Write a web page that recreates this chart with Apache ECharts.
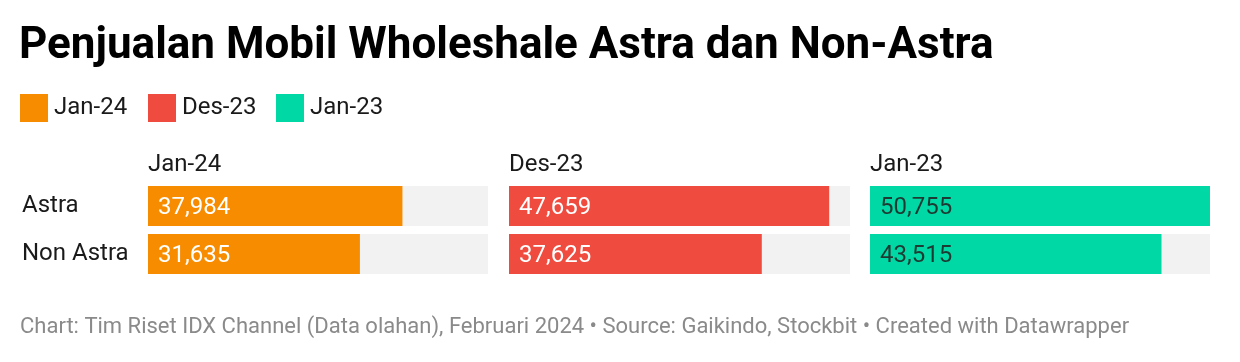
<!DOCTYPE html>
<html><head><meta charset="utf-8">
<script src="https://cdn.jsdelivr.net/npm/echarts@6/dist/echarts.min.js"></script>
<style>html,body{margin:0;padding:0;background:#fff}#c{width:1240px;height:362px}</style>
</head><body><div id="c"></div>
<script>
const categories = ['Astra', 'Non Astra'];
const periods = ['Jan-24', 'Des-23', 'Jan-23'];
const jan24 = [37984, 31635];
const des23 = [47659, 37625];
const jan23 = [50755, 43515];
const colors = ['#f88c00', '#ef4b3f', '#00d9a5'];
const labelColors = ['#ffffff', '#ffffff', '#1d3b33'];
const seriesValues = [jan24, des23, jan23];
const maxVal = Math.max(...jan24, ...des23, ...jan23);

const panelLeft = [148, 509, 870];
const panelWidth = [340, 341, 340];
const FONT = 'Roboto, sans-serif';

const chart = echarts.init(document.getElementById('c'), null, {renderer: 'canvas'});
const grids = [], xAxes = [], yAxes = [], series = [], legends = [], titles = [];
periods.forEach((p, i) => {
  grids.push({left: panelLeft[i], top: 182, width: panelWidth[i], height: 96});
  xAxes.push({gridIndex: i, type: 'value', min: 0, max: maxVal, show: false});
  yAxes.push({gridIndex: i, type: 'category', data: categories, inverse: true,
    axisLine: {show: false}, axisTick: {show: false}, splitLine: {show: false},
    axisLabel: {show: i === 0, align: 'left', margin: 126, fontSize: 24, color: '#1a1a1a', fontFamily: FONT,
      padding: [0, 0, 5, 0]}});
  series.push({name: p, type: 'bar', xAxisIndex: i, yAxisIndex: i, data: seriesValues[i],
    barWidth: 40, itemStyle: {color: colors[i]},
    showBackground: true, backgroundStyle: {color: '#f2f2f2'},
    label: {show: true, position: 'insideLeft', distance: 10, fontSize: 24, fontFamily: FONT,
      offset: [0, 2],
      color: labelColors[i], formatter: d => d.value.toLocaleString('en-US')},
    silent: true, animation: false});
  titles.push({text: p, left: panelLeft[i] - 5, top: 148,
    textStyle: {fontSize: 24, fontWeight: 'normal', color: '#1a1a1a', fontFamily: FONT}});
});
const legendLeft = [15, 143, 271];
periods.forEach((p, i) => {
  legends.push({data: [p], left: legendLeft[i], top: 89, itemWidth: 28, itemHeight: 28, icon: 'rect',
    itemGap: 0, textStyle: {fontSize: 24, color: '#1a1a1a', fontFamily: FONT, padding: [0, 0, 0, 1]},
    selectedMode: false});
});
titles.push({text: 'Penjualan Mobil Wholeshale Astra dan Non-Astra', left: 14, top: 20,
  textStyle: {fontSize: 44, fontWeight: 'bold', color: '#000', fontFamily: FONT}});
titles.push({text: 'Chart: Tim Riset IDX Channel (Data olahan), Februari 2024 • Source: Gaikindo, Stockbit • Created with Datawrapper',
  left: 15, top: 311, textStyle: {fontSize: 22, fontWeight: 'normal', color: '#8a8a8a', fontFamily: FONT}});

chart.setOption({
  animation: false,
  title: titles,
  legend: legends,
  grid: grids,
  xAxis: xAxes,
  yAxis: yAxes,
  series: series
});
</script></body></html>
